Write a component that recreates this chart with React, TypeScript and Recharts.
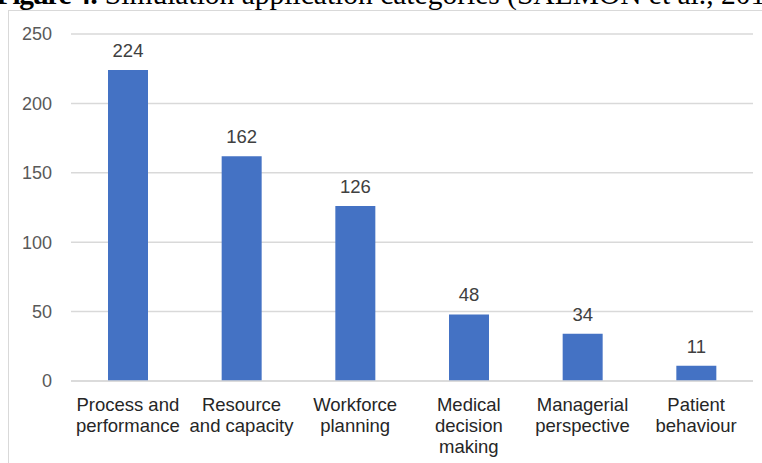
import React from 'react';
import { BarChart, Bar, XAxis, YAxis, CartesianGrid, LabelList } from 'recharts';

const categories = [
  'Process and\nperformance',
  'Resource\nand capacity',
  'Workforce\nplanning',
  'Medical\ndecision\nmaking',
  'Managerial\nperspective',
  'Patient\nbehaviour',
];
const counts = [224, 162, 126, 48, 34, 11];
const yTicks = [0, 50, 100, 150, 200, 250];

const chartData = categories.map((name, i) => ({ name, value: counts[i] }));

const SANS = '"Liberation Sans", Arial, Helvetica, sans-serif';

// multi-line category labels under each bar
const CategoryTick = ({ x, y, payload }: any) => {
  const lines = String(payload.value).split('\n');
  return (
    <text x={x} y={y} textAnchor="middle" fill="#262626" fontSize={18.5} fontFamily={SANS}>
      {lines.map((line, i) => (
        <tspan key={i} x={x} dy={i === 0 ? 30 : 21}>
          {line}
        </tspan>
      ))}
    </text>
  );
};

export default function App() {
  return (
    <div
      style={{
        position: 'fixed',
        left: 0,
        top: 0,
        width: 762,
        height: 463,
        overflow: 'hidden',
        background: '#ffffff',
      }}
    >
      {/* figure caption, cropped at the top edge */}
      <div
        style={{
          position: 'absolute',
          left: -4,
          top: -21,
          fontFamily: '"Liberation Serif", "Times New Roman", serif',
          fontSize: 29.5,
          lineHeight: '30px',
          whiteSpace: 'nowrap',
          color: '#000',
        }}
      >
        <b style={{ letterSpacing: -1.5 }}>Figure 4:</b> Simulation application categories (SALMON et al., 2018)
      </div>

      {/* chart area frame */}
      <div
        style={{
          position: 'absolute',
          left: 8,
          top: 10,
          width: 800,
          height: 500,
          borderTop: '1px solid #d9d9d9',
          borderLeft: '1px solid #d9d9d9',
          background: '#ffffff',
        }}
      />

      <div style={{ position: 'absolute', left: 0, top: 0 }}>
        <BarChart
          width={762}
          height={463}
          data={chartData}
          margin={{ top: 34, right: 9, bottom: 0, left: 0 }}
        >
          <CartesianGrid vertical={false} stroke="#d9d9d9" strokeWidth={1.5} />
          <XAxis
            dataKey="name"
            height={82}
            interval={0}
            tickLine={false}
            tickSize={0}
            tickMargin={0}
            axisLine={{ stroke: '#d9d9d9', strokeWidth: 1.5 }}
            tick={<CategoryTick />}
          />
          <YAxis
            width={71}
            domain={[0, 250]}
            ticks={yTicks}
            axisLine={false}
            tickLine={false}
            tickSize={0}
            tickMargin={19}
            tick={{ fill: '#595959', fontSize: 18, fontFamily: SANS }}
          />
          <Bar dataKey="value" fill="#4472c4" barSize={40} isAnimationActive={false}>
            <LabelList
              dataKey="value"
              position="top"
              offset={13}
              fill="#404040"
              fontSize={18.5}
              fontFamily={SANS}
            />
          </Bar>
        </BarChart>
      </div>
    </div>
  );
}
